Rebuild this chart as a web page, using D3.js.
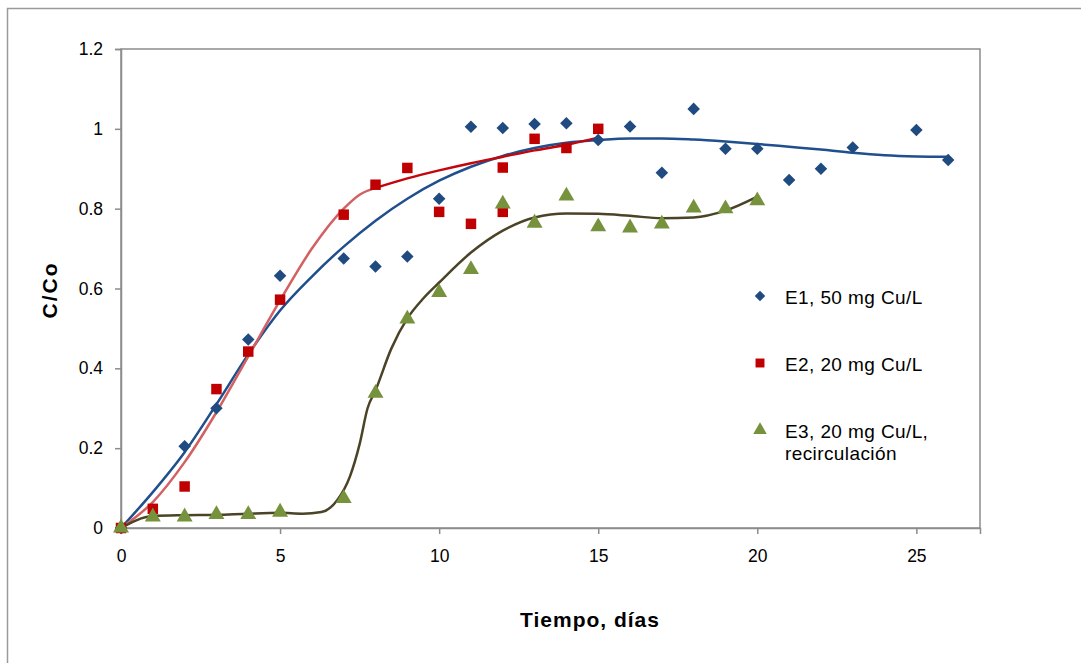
<!DOCTYPE html>
<html>
<head>
<meta charset="utf-8">
<script src="https://cdn.jsdelivr.net/npm/d3@7/dist/d3.min.js"></script>
<style>
  html, body { margin: 0; padding: 0; background: #fff; }
  svg { display: block; font-family: Arial, "Liberation Sans", sans-serif; }
</style>
</head>
<body>
<svg id="chart" width="1081" height="663"></svg>
<script>
// Measured breakthrough data: C/Co versus time (days)
const daysE1 = [0, 2, 3, 4, 5, 7, 8, 9, 10, 11, 12, 13, 14, 15, 16, 17, 18, 19, 20, 21, 22, 23, 25, 26];
const valsE1 = [0, 0.205, 0.30, 0.472, 0.632, 0.675, 0.655, 0.68, 0.825, 1.005, 1.002, 1.012, 1.014, 0.972, 1.006, 0.89, 1.05, 0.95, 0.95, 0.872, 0.90, 0.953, 0.997, 0.922];

const daysE2 = [0, 1, 2, 3, 4, 5, 7, 8, 9, 10, 11, 12, 12, 13, 14, 15];
const valsE2 = [0, 0.048, 0.104, 0.348, 0.442, 0.572, 0.785, 0.86, 0.902, 0.792, 0.762, 0.903, 0.792, 0.975, 0.952, 1.0];

const daysE3 = [0, 1, 2, 3, 4, 5, 7, 8, 9, 10, 11, 12, 13, 14, 15, 16, 17, 18, 19, 20];
const valsE3 = [0, 0.028, 0.028, 0.034, 0.034, 0.04, 0.074, 0.338, 0.524, 0.59, 0.648, 0.812, 0.764, 0.832, 0.755, 0.752, 0.762, 0.802, 0.80, 0.82];

// Fitted trend curves
const fitDaysE1 = [0, 1, 2, 3, 4, 5, 6, 7, 8, 9, 10, 11, 12, 13, 14, 15, 16, 17, 18, 19, 20, 21, 22, 23, 24, 25, 26];
const fitValsE1 = [0, 0.09, 0.19, 0.31, 0.435, 0.545, 0.63, 0.705, 0.77, 0.825, 0.87, 0.905, 0.932, 0.952, 0.965, 0.972, 0.976, 0.976, 0.973, 0.968, 0.962, 0.955, 0.948, 0.94, 0.934, 0.931, 0.93];

const fitDaysE2a = [0, 1, 2, 3, 4, 5, 6, 7, 7.5, 8];
const fitValsE2a = [0, 0.065, 0.165, 0.29, 0.43, 0.57, 0.7, 0.8, 0.835, 0.852];
const fitDaysE2b = [8, 9, 10, 11, 12, 13, 14, 15];
const fitValsE2b = [0.852, 0.876, 0.896, 0.914, 0.93, 0.946, 0.96, 0.978];

const fitDaysE3 = [0, 1, 2, 3, 4, 5, 5.7, 6.3, 6.8, 7.2, 7.5, 7.75, 8, 8.5, 9, 9.5, 10, 11, 12, 13, 14, 15, 16, 17, 18, 19, 20];
const fitValsE3 = [0, 0.03, 0.032, 0.033, 0.036, 0.038, 0.036, 0.04, 0.07, 0.13, 0.21, 0.3, 0.345, 0.45, 0.525, 0.575, 0.615, 0.69, 0.745, 0.778, 0.788, 0.787, 0.782, 0.776, 0.778, 0.795, 0.83];

const xTicks = [0, 5, 10, 15, 20, 25];
const yTicks = [0, 0.2, 0.4, 0.6, 0.8, 1, 1.2];

const legendLabels = [["E1, 50 mg Cu/L"], ["E2, 20 mg Cu/L"], ["E3, 20 mg Cu/L,", "recirculación"]];

const svg = d3.select("#chart");

// Outer chart frame
svg.append("path")
  .attr("d", "M7.5,700 V8.5 H1090")
  .attr("fill", "none").attr("stroke", "#9a9a9a").attr("stroke-width", 1.5);

const plot = { left: 121, top: 49, right: 980, bottom: 528 };
const x = d3.scaleLinear().domain([0, 27]).range([plot.left, plot.right]);
const y = d3.scaleLinear().domain([0, 1.2]).range([plot.bottom, plot.top]);

// Plot area border
svg.append("rect")
  .attr("x", plot.left).attr("y", plot.top)
  .attr("width", plot.right - plot.left).attr("height", plot.bottom - plot.top)
  .attr("fill", "none").attr("stroke", "#8c8c8c").attr("stroke-width", 1.5);

// Axes
const xAxis = svg.append("g")
  .attr("transform", `translate(0,${plot.bottom})`)
  .call(d3.axisBottom(x).tickValues(xTicks).tickFormat(d3.format("d")).tickSize(6).tickPadding(16));
const yAxis = svg.append("g")
  .attr("transform", `translate(${plot.left},0)`)
  .call(d3.axisLeft(y).tickValues(yTicks).tickFormat(d => d === 0 || d === 1 ? d3.format("d")(d) : d3.format(".1f")(d)).tickSize(6).tickPadding(12));
[xAxis, yAxis].forEach(g => {
  g.select(".domain").attr("stroke", "#8c8c8c").attr("stroke-width", 1.5);
  g.selectAll(".tick line").attr("stroke", "#8c8c8c").attr("stroke-width", 1.5);
  g.selectAll(".tick text").attr("fill", "#000").style("font-size", "17.5px").style("font-family", "Arial, 'Liberation Sans', sans-serif");
});

// Axis titles
svg.append("text")
  .attr("x", 590).attr("y", 627)
  .attr("text-anchor", "middle")
  .style("font-size", "21px").style("font-weight", "bold").style("letter-spacing", "1px")
  .text("Tiempo, días");
svg.append("text")
  .attr("transform", "translate(57,290) rotate(-90)")
  .attr("text-anchor", "middle")
  .style("font-size", "21px").style("font-weight", "bold").style("letter-spacing", "2px")
  .text("C/Co");

// Trend lines
const line = d3.line().x(d => x(d[0])).y(d => y(d[1])).curve(d3.curveMonotoneX);
const zip = (a, b) => a.map((v, i) => [v, b[i]]);

svg.append("path").datum(zip(fitDaysE1, fitValsE1))
  .attr("d", line).attr("fill", "none").attr("stroke", "#1f4f8c").attr("stroke-width", 2.5);
svg.append("path").datum(zip(fitDaysE2a, fitValsE2a))
  .attr("d", line).attr("fill", "none").attr("stroke", "#d36062").attr("stroke-width", 2.5);
svg.append("path").datum(zip(fitDaysE2b, fitValsE2b))
  .attr("d", line).attr("fill", "none").attr("stroke", "#c4060c").attr("stroke-width", 2.5);
svg.append("path").datum(zip(fitDaysE3, fitValsE3))
  .attr("d", line).attr("fill", "none").attr("stroke", "#4a4326").attr("stroke-width", 2.5);

// Markers
const diamond = d3.symbol().type(d3.symbolDiamond2).size(100);
const square = d3.symbol().type(d3.symbolSquare).size(110);
const triangle = d3.symbol().type(d3.symbolTriangle).size(110);

svg.append("g").selectAll("path").data(zip(daysE1, valsE1)).join("path")
  .attr("transform", d => `translate(${x(d[0])},${y(d[1])})`)
  .attr("d", diamond).attr("fill", "#1f4b80");
svg.append("g").selectAll("path").data(zip(daysE2, valsE2)).join("path")
  .attr("transform", d => `translate(${x(d[0])},${y(d[1])})`)
  .attr("d", square).attr("fill", "#c00000");
svg.append("g").selectAll("path").data(zip(daysE3, valsE3)).join("path")
  .attr("transform", d => `translate(${x(d[0])},${y(d[1])})`)
  .attr("d", triangle).attr("fill", "#76923c");

// Legend
const legendSymbols = [
  d3.symbol().type(d3.symbolDiamond2).size(70),
  d3.symbol().type(d3.symbolSquare).size(80),
  d3.symbol().type(d3.symbolTriangle).size(80)
];
const legendColors = ["#1f4b80", "#c00000", "#76923c"];
const legendY = [296, 363, 430];
const legend = svg.append("g");
legendLabels.forEach((lines, i) => {
  legend.append("path")
    .attr("transform", `translate(760,${legendY[i]})`)
    .attr("d", legendSymbols[i]).attr("fill", legendColors[i]);
  const t = legend.append("text")
    .attr("x", 785).attr("y", legendY[i] + 8)
    .style("font-size", "19px").style("letter-spacing", "0.4px").attr("fill", "#000");
  lines.forEach((s, j) => {
    t.append("tspan").attr("x", 785).attr("dy", j === 0 ? 0 : 22).text(s);
  });
});
</script>
</body>
</html>
